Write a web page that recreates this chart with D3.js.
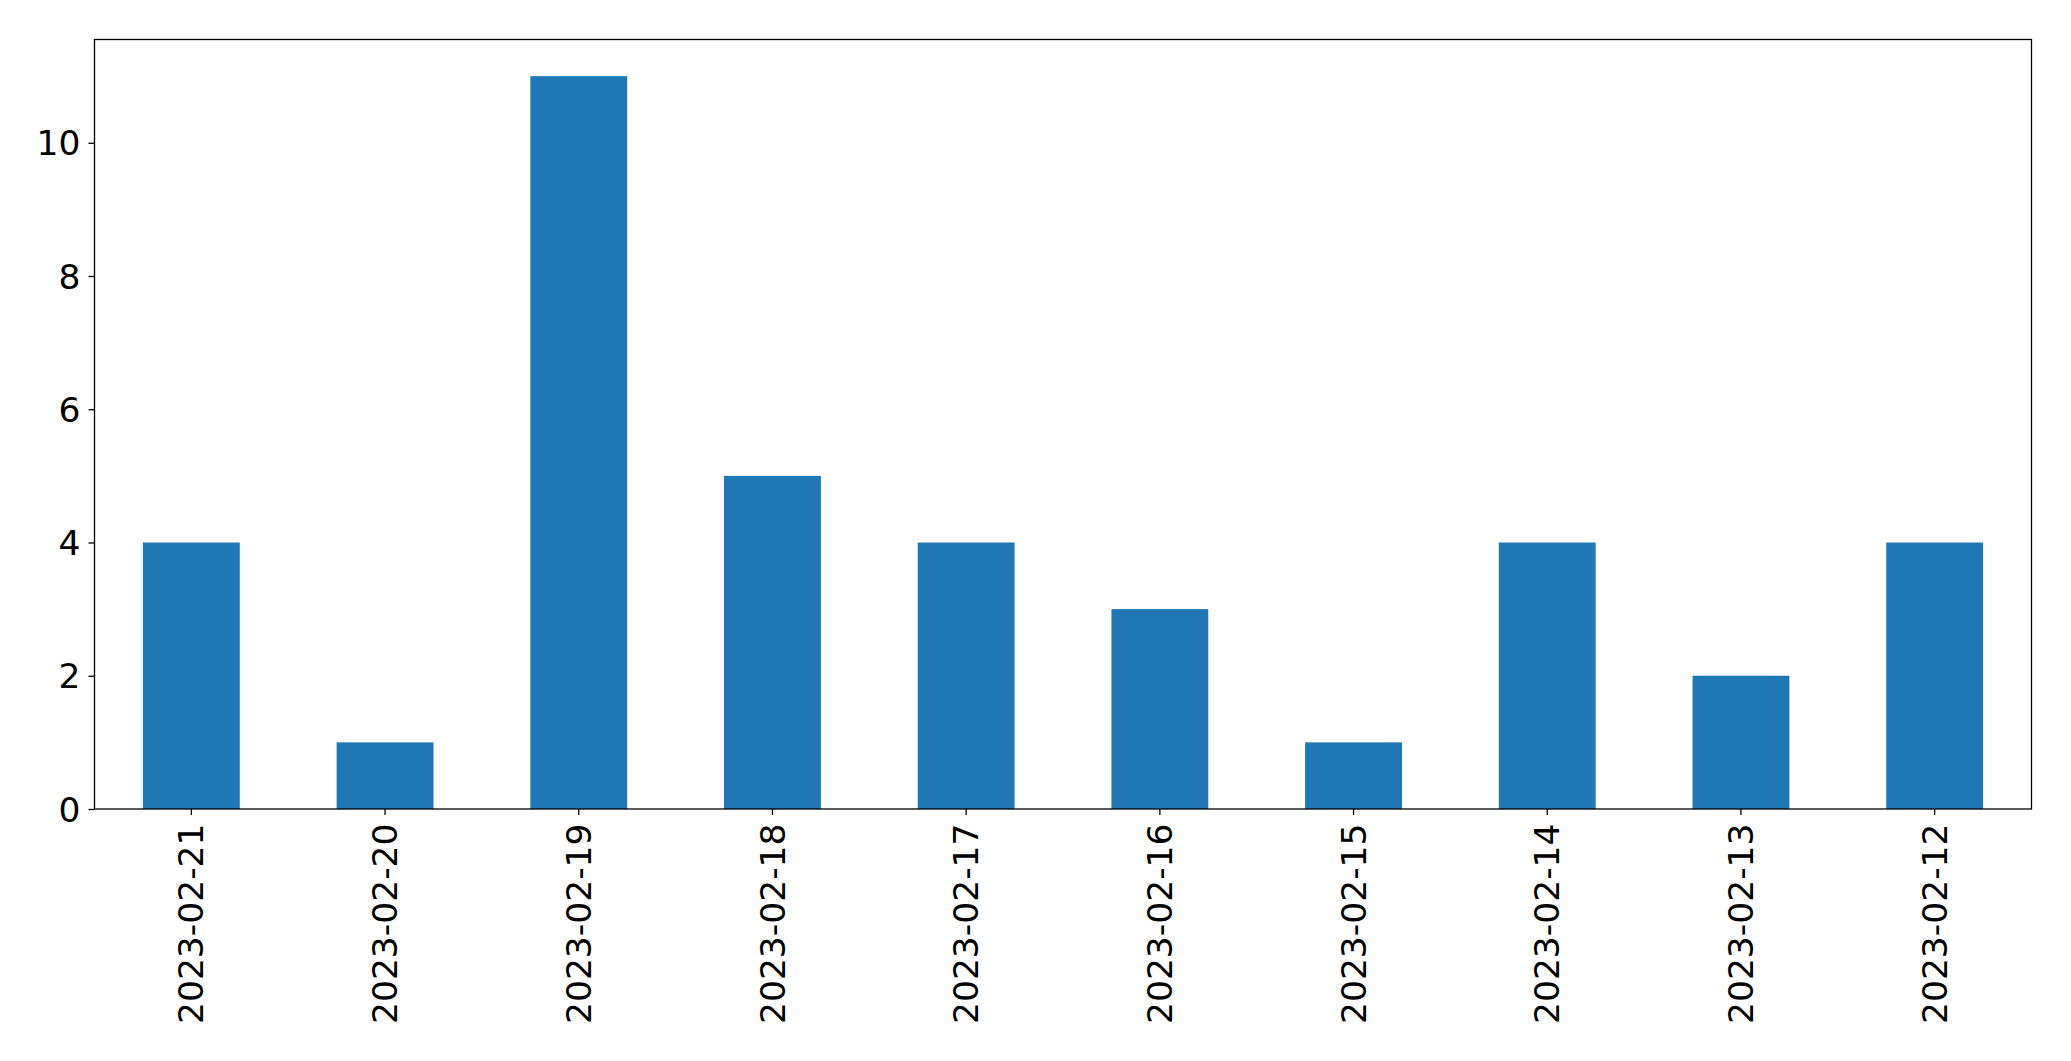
<!DOCTYPE html>
<html><head><meta charset="utf-8">
<script src="https://cdn.jsdelivr.net/npm/d3@7"></script>
<style>body{margin:0;background:#fff;} text{font-family:"DejaVu Sans",sans-serif;}</style>
</head><body>
<svg id="c" width="2071" height="1061"></svg>
<script>
const categories = ["2023-02-21","2023-02-20","2023-02-19","2023-02-18","2023-02-17","2023-02-16","2023-02-15","2023-02-14","2023-02-13","2023-02-12"];
const values = [4,1,11,5,4,3,1,4,2,4];
const yTicks = [0,2,4,6,8,10];

const svg = d3.select("#c");
const L = 94.5, R = 2031.5, T = 39.5, B = 809;
const fs = 34.5;

const x = d3.scaleBand().domain(categories).range([L, R]).paddingInner(0.5).paddingOuter(0.25);
const y = d3.scaleLinear().domain([0, 11.55]).range([B, T]);

svg.append("g").selectAll("rect").data(values).join("rect")
  .attr("x", (d,i) => x(categories[i]))
  .attr("width", x.bandwidth())
  .attr("y", d => y(d))
  .attr("height", d => y(0) - y(d))
  .attr("fill", "#1f77b4");

const yAxis = svg.append("g").attr("transform", `translate(${L},0)`)
  .call(d3.axisLeft(y).tickValues(yTicks).tickSize(6).tickPadding(8).tickFormat(d3.format("d")));
yAxis.select(".domain").remove();
yAxis.selectAll("line").attr("stroke","#000").attr("stroke-width",1.3);
yAxis.selectAll("text").attr("font-size", fs).attr("fill","#000").attr("font-family","DejaVu Sans").attr("dy","0.35em");

const xAxis = svg.append("g").attr("transform", `translate(0,${B})`)
  .call(d3.axisBottom(x).tickSize(6).tickPadding(8));
xAxis.select(".domain").remove();
xAxis.selectAll("line").attr("stroke","#000").attr("stroke-width",1.3);
xAxis.selectAll("text").attr("font-size", fs).attr("fill","#000").attr("font-family","DejaVu Sans")
  .attr("text-anchor","end").attr("dy","0.35em")
  .attr("transform", function(){ return "translate(0,14.5) rotate(-90)"; })
  .attr("x", 0).attr("y", 0);

svg.append("rect").attr("x", L).attr("y", T).attr("width", R-L).attr("height", B-T)
  .attr("fill","none").attr("stroke","#000").attr("stroke-width",1.3);
</script>
</body></html>
